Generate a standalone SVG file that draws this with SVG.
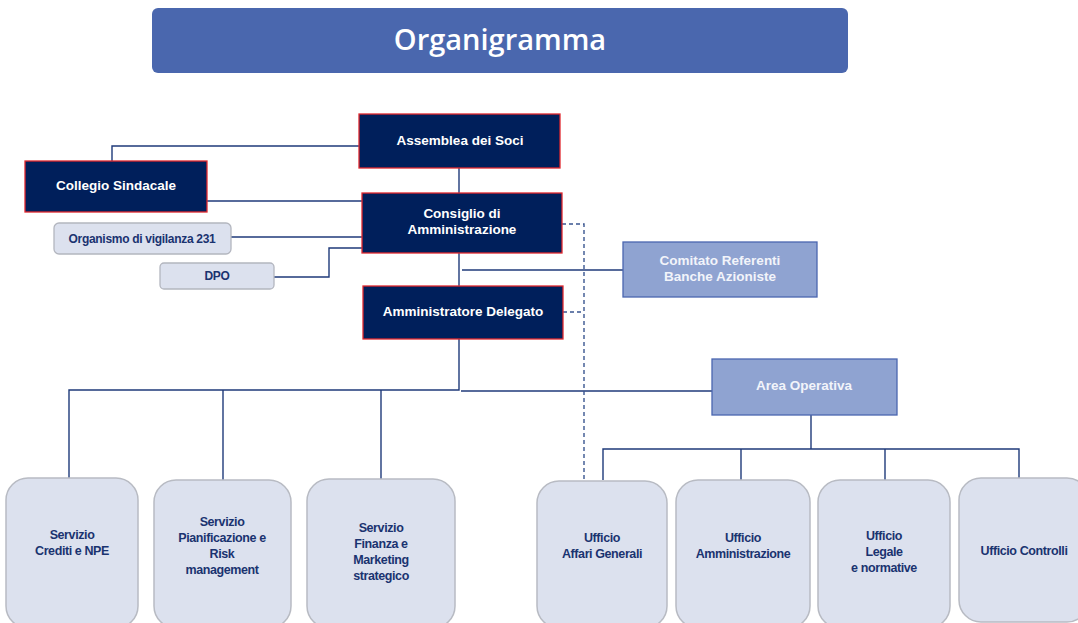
<svg xmlns="http://www.w3.org/2000/svg" width="1078" height="623" viewBox="0 0 1078 623">
<defs>
<style>
.dark{fill:#001f5b;stroke:#e0282e;stroke-width:1.3}
.mid{fill:#8fa3d1;stroke:#4a66b0;stroke-width:1.3}
.pill{fill:#dce1ee;stroke:#b3b6bf;stroke-width:1.3}
.big{fill:#dce1ee;stroke:#b8bbc3;stroke-width:1.5}
.tw{font-family:"Liberation Sans",Arial,sans-serif;font-size:13.5px;font-weight:bold;fill:#ffffff;text-anchor:middle}
.tm{font-family:"Liberation Sans",Arial,sans-serif;font-size:13.5px;font-weight:bold;fill:#f2f4fa;text-anchor:middle}
.tb{font-family:"Liberation Sans",Arial,sans-serif;font-size:12.5px;font-weight:bold;fill:#1a3370;text-anchor:middle;letter-spacing:-0.4px}
.tp{font-family:"Liberation Sans",Arial,sans-serif;font-size:12px;font-weight:bold;fill:#1a3370;text-anchor:middle;letter-spacing:-0.3px}
.ln{fill:none;stroke:#1f3a7a;stroke-width:1.4}
.dash{fill:none;stroke:#3a5690;stroke-width:1.4;stroke-dasharray:4 3}
</style>
</defs>
<g id="title">
<rect x="152" y="8" width="696" height="65" rx="6" fill="#4a67ae"/>
<text x="500" y="50" font-family="'Open Sans',sans-serif" font-size="29" font-weight="600" fill="#ffffff" text-anchor="middle">Organigramma</text>
</g>
<g id="connectors">
<path class="ln" d="M112 161V146H359"/>
<path class="ln" d="M207 201H362"/>
<path class="ln" d="M231 237H362"/>
<path class="ln" d="M274 277H329V248H362"/>
<path class="ln" d="M459 168V193"/>
<path class="ln" d="M459 253V286"/>
<path class="ln" d="M462 270H623"/>
<path class="ln" d="M459 339V390H69V478"/>
<path class="ln" d="M223 390V480"/>
<path class="ln" d="M381 390V479"/>
<path class="ln" d="M461 391H712"/>
<path class="ln" d="M811 415V449"/>
<path class="ln" d="M603 480V449H1019V478"/>
<path class="ln" d="M741 449V480"/>
<path class="ln" d="M885 449V480"/>
<path class="dash" d="M562 224H584V479"/>
<path class="dash" d="M563 312H584"/>
</g>
<g id="assemblea">
<rect class="dark" x="359" y="114" width="201" height="54"/>
<text class="tw" x="460" y="145">Assemblea dei Soci</text>
</g>
<g id="consiglio">
<rect class="dark" x="362" y="193" width="200" height="60"/>
<text class="tw" x="462" y="218">Consiglio di</text>
<text class="tw" x="462" y="234">Amministrazione</text>
</g>
<g id="amministratore">
<rect class="dark" x="363" y="286" width="200" height="53"/>
<text class="tw" x="463" y="316">Amministratore Delegato</text>
</g>
<g id="collegio">
<rect class="dark" x="25" y="161" width="182" height="51"/>
<text class="tw" x="116" y="190">Collegio Sindacale</text>
</g>
<g id="organismo">
<rect class="pill" x="54" y="223" width="177" height="31" rx="5"/>
<text class="tp" x="142" y="243">Organismo di vigilanza 231</text>
</g>
<g id="dpo">
<rect class="pill" x="160" y="263" width="114" height="26" rx="4"/>
<text class="tp" x="217" y="280">DPO</text>
</g>
<g id="comitato">
<rect class="mid" x="623" y="242" width="194" height="55"/>
<text class="tm" x="720" y="265">Comitato Referenti</text>
<text class="tm" x="720" y="281">Banche Azioniste</text>
</g>
<g id="area">
<rect class="mid" x="712" y="359" width="185" height="56"/>
<text class="tm" x="804" y="390">Area Operativa</text>
</g>
<g id="crediti">
<rect class="big" x="6" y="478" width="132" height="150" rx="22"/>
<text class="tb" x="72" y="539">Servizio</text>
<text class="tb" x="72" y="555">Crediti e NPE</text>
</g>
<g id="pianificazione">
<rect class="big" x="154" y="480" width="137" height="148" rx="22"/>
<text class="tb" x="222" y="526">Servizio</text>
<text class="tb" x="222" y="542">Pianificazione e</text>
<text class="tb" x="222" y="558">Risk</text>
<text class="tb" x="222" y="574">management</text>
</g>
<g id="finanza">
<rect class="big" x="307" y="479" width="148" height="149" rx="22"/>
<text class="tb" x="381" y="532">Servizio</text>
<text class="tb" x="381" y="548">Finanza e</text>
<text class="tb" x="381" y="564">Marketing</text>
<text class="tb" x="381" y="580">strategico</text>
</g>
<g id="affari">
<rect class="big" x="537" y="481" width="130" height="147" rx="22"/>
<text class="tb" x="602" y="542">Ufficio</text>
<text class="tb" x="602" y="558">Affari Generali</text>
</g>
<g id="amministrazione">
<rect class="big" x="676" y="480" width="134" height="148" rx="22"/>
<text class="tb" x="743" y="542">Ufficio</text>
<text class="tb" x="743" y="558">Amministrazione</text>
</g>
<g id="legale">
<rect class="big" x="818" y="480" width="132" height="148" rx="22"/>
<text class="tb" x="884" y="540">Ufficio</text>
<text class="tb" x="884" y="556">Legale</text>
<text class="tb" x="884" y="572">e normative</text>
</g>
<g id="controlli">
<rect class="big" x="959" y="478" width="130" height="144" rx="22"/>
<text class="tb" x="1024" y="555">Ufficio Controlli</text>
</g>
</svg>
